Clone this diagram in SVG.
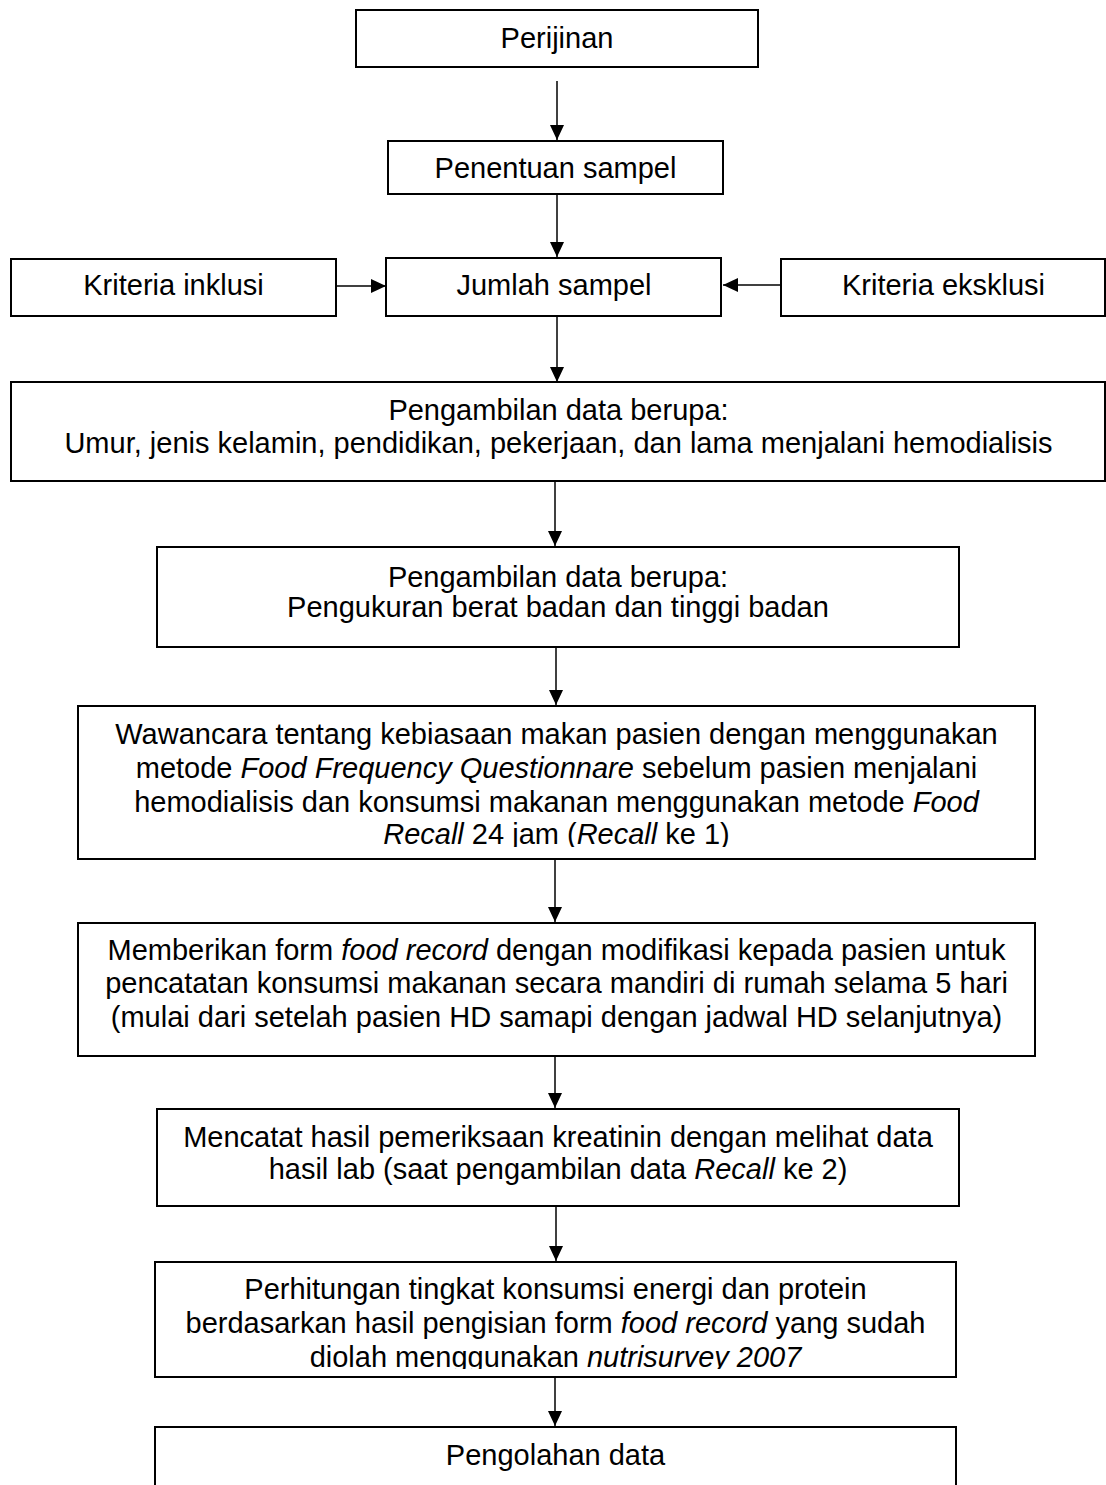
<svg xmlns="http://www.w3.org/2000/svg" width="1106" height="1485" viewBox="0 0 1106 1485">
<style>
.box{fill:#fff;stroke:#000;stroke-width:2}
.t{font-family:"Liberation Sans",Arial,sans-serif;font-size:29px;fill:#000;text-anchor:middle}
.i{font-style:italic}
.c{stroke:#000;stroke-width:1.5;fill:none;marker-end:url(#ah)}
</style>
<defs>
<marker id="ah" markerUnits="userSpaceOnUse" markerWidth="16" markerHeight="16" viewBox="0 0 16 16" refX="15" refY="8" orient="auto">
<path d="M0,1 L15,8 L0,15 Z" fill="#000"/>
</marker>
<clipPath id="clip3"><rect x="78" y="706" width="957" height="141"/></clipPath>
<clipPath id="clip6"><rect x="155" y="1262" width="801" height="107"/></clipPath>
</defs>
<rect width="1106" height="1485" fill="#fff"/>
<g id="connectors">
<line class="c" x1="557" y1="81" x2="557" y2="140"/>
<line class="c" x1="557" y1="194" x2="557" y2="257"/>
<line class="c" x1="336" y1="286" x2="386" y2="286"/>
<line class="c" x1="781" y1="285" x2="723" y2="285"/>
<line class="c" x1="557" y1="316" x2="557" y2="382"/>
<line class="c" x1="555" y1="481" x2="555" y2="546"/>
<line class="c" x1="556" y1="647" x2="556" y2="705"/>
<line class="c" x1="555" y1="859" x2="555" y2="922"/>
<line class="c" x1="555" y1="1056" x2="555" y2="1108"/>
<line class="c" x1="556" y1="1207" x2="556" y2="1261"/>
<line class="c" x1="555" y1="1372" x2="555" y2="1426"/>
</g>
<g id="n1"><rect class="box" x="356" y="10" width="402" height="57"/><text class="t" x="557" y="48">Perijinan</text></g>
<g id="n2"><rect class="box" x="388" y="141" width="335" height="53"/><text class="t" x="555.5" y="178">Penentuan sampel</text></g>
<g id="n3"><rect class="box" x="386" y="258" width="335" height="58"/><text class="t" x="554" y="295">Jumlah sampel</text></g>
<g id="n4"><rect class="box" x="11" y="259" width="325" height="57"/><text class="t" x="173.5" y="295">Kriteria inklusi</text></g>
<g id="n5"><rect class="box" x="781" y="259" width="324" height="57"/><text class="t" x="943.5" y="295">Kriteria eksklusi</text></g>
<g id="n6"><rect class="box" x="11" y="382" width="1094" height="99"/>
<text class="t" x="558.5" y="420">Pengambilan data berupa:</text>
<text class="t" x="558.5" y="453">Umur, jenis kelamin, pendidikan, pekerjaan, dan lama menjalani hemodialisis</text></g>
<g id="n7"><rect class="box" x="157" y="547" width="802" height="100"/>
<text class="t" x="558" y="587">Pengambilan data berupa:</text>
<text class="t" x="558" y="617">Pengukuran berat badan dan tinggi badan</text></g>
<g id="n8"><rect class="box" x="78" y="706" width="957" height="153"/>
<g clip-path="url(#clip3)">
<text class="t" x="556.5" y="744">Wawancara tentang kebiasaan makan pasien dengan menggunakan</text>
<text class="t" x="556.5" y="778">metode <tspan class="i">Food Frequency Questionnare</tspan> sebelum pasien menjalani</text>
<text class="t" x="556.5" y="812">hemodialisis dan konsumsi makanan menggunakan metode <tspan class="i">Food</tspan></text>
<text class="t" x="556.5" y="844"><tspan class="i">Recall</tspan> 24 jam (<tspan class="i">Recall</tspan> ke 1)</text>
</g></g>
<g id="n9"><rect class="box" x="78" y="923" width="957" height="133"/>
<text class="t" x="556.5" y="960">Memberikan form <tspan class="i">food record</tspan> dengan modifikasi kepada pasien untuk</text>
<text class="t" x="556.5" y="993">pencatatan konsumsi makanan secara mandiri di rumah selama 5 hari</text>
<text class="t" x="556.5" y="1027">(mulai dari setelah pasien HD samapi dengan jadwal HD selanjutnya)</text></g>
<g id="n10"><rect class="box" x="157" y="1109" width="802" height="97"/>
<text class="t" x="558" y="1147">Mencatat hasil pemeriksaan kreatinin dengan melihat data</text>
<text class="t" x="558" y="1179">hasil lab (saat pengambilan data <tspan class="i">Recall</tspan> ke 2)</text></g>
<g id="n11"><rect class="box" x="155" y="1262" width="801" height="115"/>
<g clip-path="url(#clip6)">
<text class="t" x="555.5" y="1299">Perhitungan tingkat konsumsi energi dan protein</text>
<text class="t" x="555.5" y="1333">berdasarkan hasil pengisian form <tspan class="i">food record</tspan> yang sudah</text>
<text class="t" x="555.5" y="1367">diolah menggunakan <tspan class="i">nutrisurvey 2007</tspan></text>
</g></g>
<g id="n12"><rect class="box" x="155" y="1427" width="801" height="80"/>
<text class="t" x="555.5" y="1465">Pengolahan data</text></g>
</svg>
